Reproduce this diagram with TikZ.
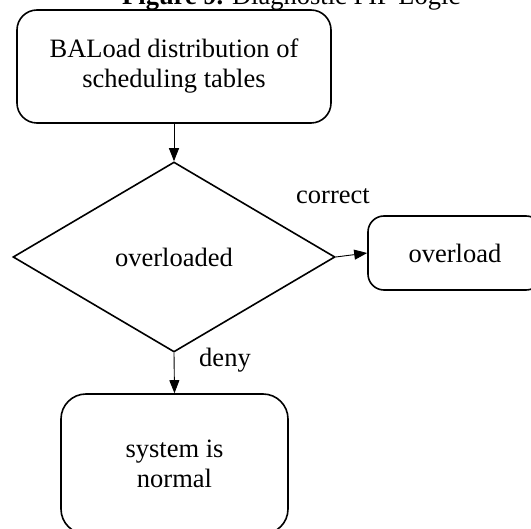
\documentclass[tikz,border=0pt]{standalone}
\usepackage{fontspec}
\setmainfont{Liberation Serif}
\usetikzlibrary{shapes.geometric,arrows.meta}
\begin{document}
\begin{tikzpicture}[x=1pt,y=-1pt,
  txt/.style={font=\fontsize{26.5}{30}\selectfont},
  box/.style={txt,draw,line width=1.6pt,rounded corners=20pt,align=center,inner sep=0pt},
  dec/.style={txt,draw,diamond,line width=1.6pt,inner sep=0pt},
  lbl/.style={txt,inner sep=0pt},
  arr/.style={-{Triangle[length=13pt,width=10pt]},line width=0.9pt}]
\useasboundingbox (0,0) rectangle (531,529);
\clip (0,0) rectangle (531,529);
\node[lbl,anchor=base west] (title) at (122,5) {\textbf{Figure 9.} Diagnostic PIP Logic};
\node[box,minimum width=314pt,minimum height=113pt] (load) at (174,66.5) {BALoad distribution of\\scheduling tables};
\node[dec,minimum width=322pt,minimum height=190pt] (ovl) at (174,257) {overloaded};
\node[box,rounded corners=16pt,minimum width=174pt,minimum height=74pt] (over) at (455,253) {overload};
\node[box,rounded corners=25pt,minimum width=227pt,minimum height=140pt] (sys) at (174.5,464) {system is\\normal};
\draw[arr] (load.south) -- (ovl.north);
\draw[arr] (ovl.east) -- (over.west);
\draw[arr] (ovl.south) -- (sys.north);
\node[lbl,anchor=base] (c) at (333,204) {correct};
\node[lbl,anchor=base] (d) at (225,367) {deny};
\end{tikzpicture}
\end{document}
